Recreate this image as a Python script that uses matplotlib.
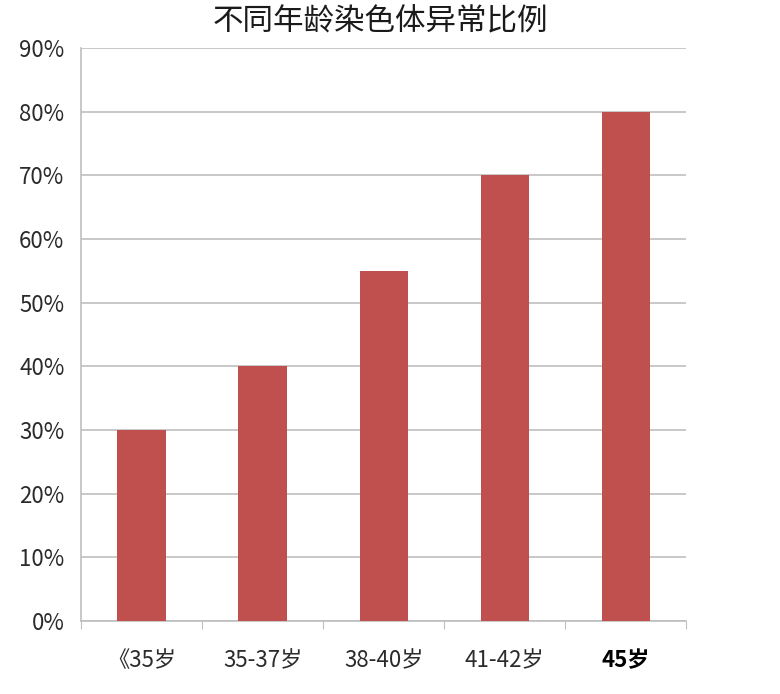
import numpy as np
import matplotlib.pyplot as plt
from matplotlib.ticker import PercentFormatter

plt.rcParams['font.family'] = ['Noto Sans CJK SC', 'DejaVu Sans']

# Data
categories = ['《35岁', '35-37岁', '38-40岁', '41-42岁', '45岁']
ratios = [30, 40, 55, 70, 80]
title = '不同年龄染色体异常比例'

bar_color = '#C0504D'
grid_color = '#BFBFBF'

fig = plt.figure(figsize=(7.8, 6.94), dpi=100)
ax = fig.add_axes([0.104, 0.105, 0.776, 0.826])

x = np.arange(len(categories))
ax.bar(x, ratios, width=0.4, color=bar_color, zorder=3)

ax.set_xlim(-0.5, len(categories) - 0.5)
ax.set_ylim(0, 90)
ax.set_yticks(np.arange(0, 91, 10))
ax.yaxis.set_major_formatter(PercentFormatter(decimals=0))
ax.grid(axis='y', color=grid_color, linewidth=1.2, zorder=0)

# category labels between boundary ticks
ax.set_xticks(np.arange(-0.5, len(categories), 1.0))
ax.set_xticklabels([])
ax.set_xticks(x, minor=True)
ax.set_xticklabels(categories, minor=True, fontsize=16, color='#2b2b2b')
ax.tick_params(axis='x', which='major', length=6, color=grid_color, direction='out')
ax.tick_params(axis='x', which='minor', length=0, pad=20)
ax.get_xticklabels(minor=True)[-1].set_fontweight('bold')
ax.get_xticklabels(minor=True)[-1].set_color('black')

ax.tick_params(axis='y', length=0, labelsize=16, pad=12, labelcolor='#2b2b2b')

for side in ['top', 'right']:
    ax.spines[side].set_visible(False)
ax.spines['left'].set_color(grid_color)
ax.spines['bottom'].set_color(grid_color)
ax.spines['left'].set_linewidth(1.2)
ax.spines['bottom'].set_linewidth(1.2)

fig.text(0.488, 0.969, title, ha='center', va='center', fontsize=22, color='#1a1a1a')

fig.savefig('out.png', dpi=100)
